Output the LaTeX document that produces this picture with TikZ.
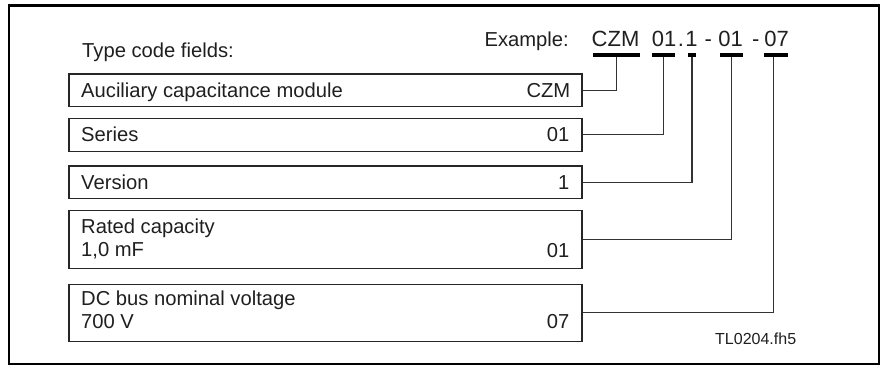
\documentclass[tikz,border=0pt]{standalone}
\usepackage{fontspec}
\setmainfont{Liberation Sans}
\begin{document}
\begin{tikzpicture}[x=1pt,y=-1pt,
  box/.style={draw=black!85, line width=1.1pt, minimum width=513pt, inner sep=0pt},
  lbl/.style={inner sep=0pt, text=black!88, font=\fontsize{20.2}{24}\selectfont},
  code/.style={inner sep=0pt, text=black!88, font=\fontsize{22}{26}\selectfont},
  bar/.style={fill=black, inner sep=0pt, minimum height=3.2pt},
  conn/.style={draw=black!80, line width=1.1pt},
  frame/.style={draw=black, line width=2.6pt}]
\useasboundingbox (0,0) rectangle (883,365);
\draw[frame] (9,5.3) rectangle (879,364);

% headings
\node[lbl, anchor=base west] (tcf) at (82,57.5) {Type code fields:};
\node[lbl, anchor=base east] (ex) at (569,46) {Example:};

% code
\node[code, anchor=base] (cCZM) at (615.5,46) {CZM};
\node[code, anchor=base] (cSer) at (664,46) {01};
\node[code, anchor=base] (cDot) at (681,46) {.};
\node[code, anchor=base] (cVer) at (691.5,46) {1};
\node[code, anchor=base] (cD1) at (708.3,46) {-};
\node[code, anchor=base] (cCap) at (730.5,46) {01};
\node[code, anchor=base] (cD2) at (755.8,46) {-};
\node[code, anchor=base] (cVol) at (776.7,46) {07};

% bars
\node[bar, minimum width=46.7pt] (b1) at (616.7,55) {};
\node[bar, minimum width=23.5pt] (b2) at (663.5,55) {};
\node[bar, minimum width=8pt] (b3) at (692,55) {};
\node[bar, minimum width=23.5pt] (b4) at (731.7,55) {};
\node[bar, minimum width=24pt] (b5) at (776.3,55) {};

% boxes
\node[box, minimum height=32.5pt] (f1) at (325.5,90.2) {};
\node[box, minimum height=33pt] (f2) at (325.5,134.8) {};
\node[box, minimum height=32.5pt] (f3) at (325.5,182.2) {};
\node[box, minimum height=57.6pt] (f4) at (325.5,239.5) {};
\node[box, minimum height=57.7pt] (f5) at (325.5,312.9) {};

% box texts
\node[lbl, anchor=base west] (l1) at (81,97.3) {Auciliary capacitance module};
\node[lbl, anchor=base east] (v1) at (570.5,97.3) {CZM};
\node[lbl, anchor=base west] (l2) at (81,141.5) {Series};
\node[lbl, anchor=base east] (v2) at (569.5,141.5) {01};
\node[lbl, anchor=base west] (l3) at (81,189.3) {Version};
\node[lbl, anchor=base east] (v3) at (569.5,189.3) {1};
\node[lbl, anchor=base west] (l4a) at (81,233.3) {Rated capacity};
\node[lbl, anchor=base west] (l4b) at (81,256.7) {1,0 mF};
\node[lbl, anchor=base east] (v4) at (569.5,257) {01};
\node[lbl, anchor=base west] (l5a) at (81,305) {DC bus nominal voltage};
\node[lbl, anchor=base west] (l5b) at (81,328.3) {700 V};
\node[lbl, anchor=base east] (v5) at (569.5,328.8) {07};

\node[inner sep=0pt, text=black!88, font=\fontsize{16}{19}\selectfont, anchor=base west] (tl) at (715,344.3) {TL0204.fh5};

% connectors
\draw[conn] (b1.south) |- (f1.east);
\draw[conn] (b2.south) |- (f2.east);
\draw[conn] (b3.south) |- (f3.east);
\draw[conn] (b4.south) |- (f4.east);
\draw[conn] ([xshift=-3pt]b5.south) |- (f5.east);
\end{tikzpicture}
\end{document}
